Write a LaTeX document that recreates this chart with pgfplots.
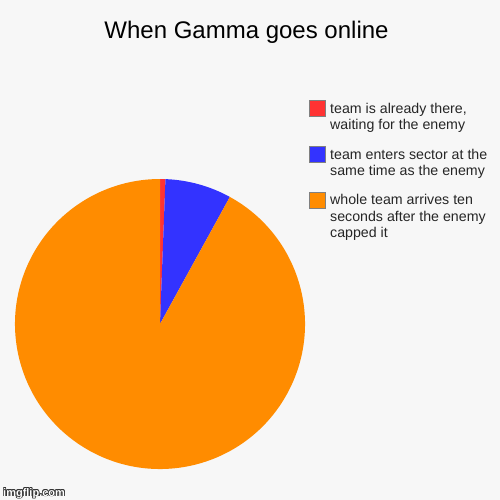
\documentclass[border=0pt]{standalone}
\usepackage{pgfplots}
\pgfplotsset{compat=1.18}
\usepackage{fontspec}
\setmainfont{Liberation Sans}
\definecolor{bg}{HTML}{F7F7F7}
\definecolor{sred}{HTML}{FF3333}
\definecolor{sblue}{HTML}{3333FF}
\definecolor{sorange}{HTML}{FF8C00}
\definecolor{boxline}{HTML}{808080}

% slice shares in percent, clockwise from the top
\def\shareA{0.6}  % team is already there
\def\shareB{7.4}  % team enters at same time
\def\shareC{92.0} % whole team arrives late
\pgfmathsetmacro\angA{90}
\pgfmathsetmacro\angB{\angA-3.6*\shareA}
\pgfmathsetmacro\angC{\angB-3.6*\shareB}
\pgfmathsetmacro\angD{\angC-3.6*\shareC}

\begin{document}
\begin{tikzpicture}
\begin{axis}[width=500pt, height=500pt, scale only axis,
  xmin=0, xmax=500, ymin=0, ymax=500, y dir=reverse,
  hide axis, clip=false]
  \fill[bg] (axis cs:0,0) rectangle (axis cs:500,500);
  % pie, centre (160,324), radius 145
  \fill[sred] (axis cs:160,324) -- ++(\angA:145pt) arc[start angle=\angA, end angle=\angB, radius=145pt] -- cycle;
  \fill[sblue] (axis cs:160,324) -- ++(\angB:145pt) arc[start angle=\angB, end angle=\angC, radius=145pt] -- cycle;
  \fill[sorange] (axis cs:160,324) -- ++(\angC:145pt) arc[start angle=\angC, end angle=\angD, radius=145pt] -- cycle;
  % title
  \node[anchor=base, font=\fontsize{24pt}{28pt}\selectfont] at (axis cs:246.5,39) {When Gamma goes online};
  % legend
  \filldraw[fill=sred, draw=boxline] (axis cs:309.5,100.5) rectangle (axis cs:325.5,116.5);
  \filldraw[fill=sblue, draw=boxline] (axis cs:309.5,146.5) rectangle (axis cs:325.5,162.5);
  \filldraw[fill=sorange, draw=boxline] (axis cs:309.5,192.5) rectangle (axis cs:325.5,208.5);
  \begin{scope}[every node/.style={anchor=base west, inner sep=0pt, font=\fontsize{14.2pt}{16pt}\selectfont, text=black!85}]
    \node at (axis cs:330,113.3) {team is already there,};
    \node at (axis cs:330,129.3) {waiting for the enemy};
    \node at (axis cs:330,159.3) {team enters sector at the};
    \node at (axis cs:330,175.6) {same time as the enemy};
    \node at (axis cs:330,204.6) {whole team arrives ten};
    \node at (axis cs:330,221.0) {seconds after the enemy};
    \node at (axis cs:330,237.6) {capped it};
  \end{scope}
  % watermark: white text with a dark outline
  \begin{scope}[every node/.style={anchor=base west, inner sep=0pt, font=\bfseries\fontsize{11pt}{12pt}\selectfont, text=black!80}]
    \node at (axis cs:2.2,496) {imgflip.com};
    \node at (axis cs:3.8,496) {imgflip.com};
    \node at (axis cs:3,495.2) {imgflip.com};
    \node at (axis cs:3,496.8) {imgflip.com};
    \node at (axis cs:2.4,495.4) {imgflip.com};
    \node at (axis cs:3.6,496.6) {imgflip.com};
    \node at (axis cs:2.4,496.6) {imgflip.com};
    \node at (axis cs:3.6,495.4) {imgflip.com};
    \node[text=white] at (axis cs:3,496) {imgflip.com};
  \end{scope}
\end{axis}
\pgfresetboundingbox
\useasboundingbox (current axis.south west) rectangle (current axis.north east);
\end{tikzpicture}
\end{document}
